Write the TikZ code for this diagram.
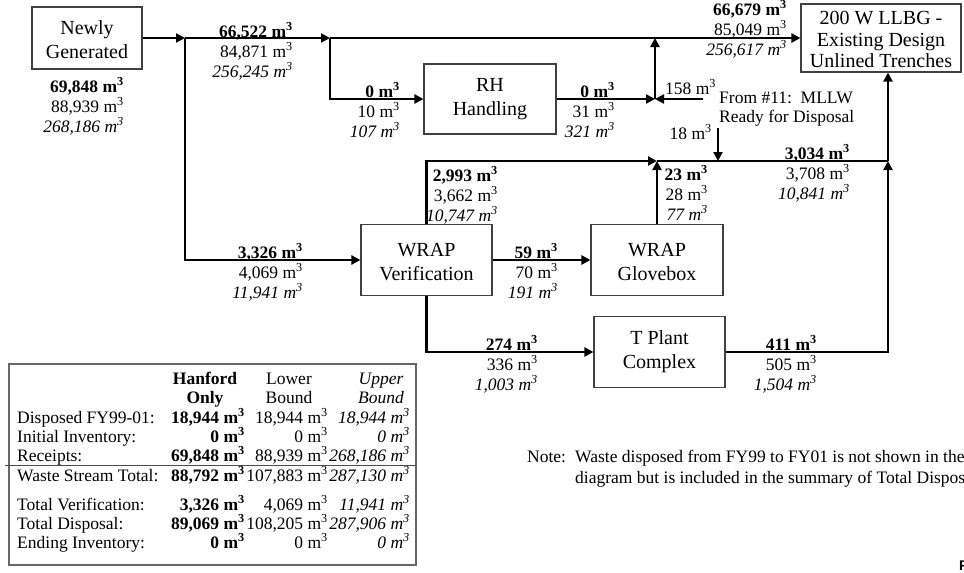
\documentclass[tikz,border=0pt]{standalone}
\usepackage{fontspec}
\setmainfont{Liberation Serif}
\newfontfamily\figsans{Liberation Sans}
\usetikzlibrary{arrows.meta}
\newcommand\cubm{m\textsuperscript{3}}
\newcommand\flowlbl[6]{%
 \node[lbl,anchor=base east] (#1b) at (#2,#3) {\textbf{#4 \cubm}};
 \node[lbl,anchor=base east,yshift=-20pt] (#1n) at (#2,#3) {#5 \cubm};
 \node[lbl,anchor=base east,yshift=-40pt] (#1i) at (#2,#3) {\textit{#6 \cubm}};}
\newcommand\trow[6]{%
 \node[tcell,anchor=base west] (#1l) at (17,#2) {#3};
 \node[tcell,anchor=base east] (#1h) at (245,#2) {\textbf{#4 \cubm}};
 \node[tcell,anchor=base east] (#1w) at (328,#2) {#5 \cubm};
 \node[tcell,anchor=base east] (#1u) at (410,#2) {\textit{#6 \cubm}};}
\begin{document}
\begin{tikzpicture}[x=1pt,y=-1pt,
 box/.style={draw=black!75, line width=1.1pt, align=center, inner sep=0pt, font=\fontsize{20}{24}\selectfont},
 lbl/.style={inner sep=0pt, font=\fontsize{17.5}{20}\selectfont},
 tcell/.style={inner sep=0pt, font=\fontsize{17.5}{20}\selectfont},
 flow/.style={line width=2.4pt},
 arr/.style={flow, -{Triangle[length=9pt,width=9pt]}}]
\useasboundingbox (0,0) rectangle (964,573);
\fill[white] (0,0) rectangle (964,573);
% boxes
\node[box, minimum width=110pt, minimum height=62pt] (ng) at (87,38) {\rule{0pt}{18pt}Newly\\Generated};
\node[box, minimum width=160pt, minimum height=68pt, font=\fontsize{20}{21.5}\selectfont] (llbg) at (881,38) {\rule{0pt}{17pt}200 W LLBG -\\Existing Design\\Unlined Trenches};
\node[box, minimum width=132pt, minimum height=70pt] (rh) at (490,99) {RH\\Handling};
\node[box, minimum width=131pt, minimum height=71pt] (wv) at (426.5,260) {\rule{0pt}{17pt}WRAP\\Verification};
\node[box, minimum width=132pt, minimum height=71pt] (wg) at (657,260) {\rule{0pt}{17pt}WRAP\\Glovebox};
\node[box, minimum width=131pt, minimum height=71pt] (tp) at (659.5,352) {T Plant\\Complex};
% junctions
\coordinate (j1) at (185,38);
\coordinate (j2) at (330,38);
\coordinate (j3) at (655,38);
\coordinate (j4) at (655,99);
\coordinate (s158) at (703,99);
\coordinate (j6) at (657,161);
\coordinate (j7) at (888,161);
\coordinate (j8) at (718,161);
\coordinate (s18) at (718,128);
% connectors
\draw[arr] (ng.east) -- (j1);
\draw[arr] (j1) -- (j2);
\draw[arr] (j2) -- (llbg.west);
\draw[arr] (j1) |- (wv.west);
\draw[arr] (j2) |- (rh.west);
\draw[arr] (rh.east) -- (j4);
\draw[arr] (j4) -- (j3);
\draw[arr] (s158) -- (j4);
\draw[arr] (wv.north) |- (j6);
\draw[arr] (wg.north) -- (j6);
\draw[arr] (wv.east) -- (wg.west);
\draw[flow] (j6) -- (j7);
\draw[arr] (s18) -- (j8);
\draw[arr] (wv.south) |- (tp.west);
\draw[arr] (tp.east) -| (j7);
\draw[arr] (j7) -- (j7 |- llbg.south);
% flow labels
\flowlbl{fng}{124}{92}{69,848}{88,939}{268,186}
\flowlbl{fa}{293}{37}{66,522}{84,871}{256,245}
\flowlbl{frhi}{400}{97}{0}{10}{107}
\flowlbl{frho}{615}{97}{0}{31}{321}
\flowlbl{fd}{787}{15}{66,679}{85,049}{256,617}
\flowlbl{fwvu}{498}{181}{2,993}{3,662}{10,747}
\flowlbl{fwg}{708}{180}{23}{28}{77}
\flowlbl{fm}{850}{159}{3,034}{3,708}{10,841}
\flowlbl{fwv}{303}{258}{3,326}{4,069}{11,941}
\flowlbl{fg}{558}{258}{59}{70}{191}
\flowlbl{ftp}{538}{350}{274}{336}{1,003}
\flowlbl{fto}{817}{350}{411}{505}{1,504}
\node[lbl, anchor=base west] (t158) at (665,94) {158 \cubm};
\node[lbl, anchor=base west] (tfrom1) at (719,103) {From \#11:~~MLLW};
\node[lbl, anchor=base west] (tfrom2) at (719,122) {Ready for Disposal};
\node[lbl, anchor=base east] (t18) at (712,139) {18 \cubm};
% note
\node[lbl, anchor=base west] (note) at (527,462) {Note:};
\node[lbl, anchor=base west] (note1) at (575,462) {Waste disposed from FY99 to FY01 is not shown in the};
\node[lbl, anchor=base west] (note2) at (575,483) {diagram but is included in the summary of Total Disposal.};
\node[anchor=base west, inner sep=0pt, font=\figsans\bfseries\fontsize{14}{16}\selectfont] (fig) at (959,570) {F};
% table
\node[draw=black!60, line width=1.1pt, minimum width=407pt, minimum height=201pt, inner sep=0pt] (tbl) at (212.5,464.5) {};
\node[tcell, anchor=base] (h1a) at (205,384) {\textbf{Hanford}};
\node[tcell, anchor=base] (h1b) at (205,403) {\textbf{Only}};
\node[tcell, anchor=base] (h2a) at (289,384) {Lower};
\node[tcell, anchor=base] (h2b) at (289,403) {Bound};
\node[tcell, anchor=base] (h3a) at (381,384) {\textit{Upper}};
\node[tcell, anchor=base] (h3b) at (381,403) {\textit{Bound}};
\trow{ra}{423}{Disposed FY99-01:}{18,944}{18,944}{18,944}
\trow{rb}{442}{Initial Inventory:}{0}{0}{0}
\trow{rc}{461}{Receipts:}{69,848}{88,939}{268,186}
\draw[line width=1pt, black!70] (5,465) -- (416,465);
\trow{rd}{481}{Waste Stream Total:}{88,792}{107,883}{287,130}
\trow{re}{510}{Total Verification:}{3,326}{4,069}{11,941}
\trow{rf}{529}{Total Disposal:}{89,069}{108,205}{287,906}
\trow{rg}{548}{Ending Inventory:}{0}{0}{0}
\end{tikzpicture}
\end{document}
